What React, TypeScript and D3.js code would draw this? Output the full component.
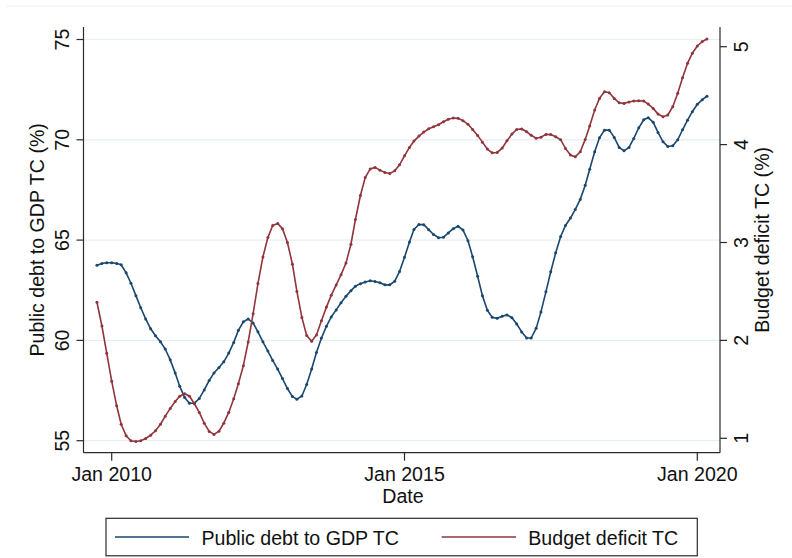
import React from "react";
import * as d3 from "d3";

// Monthly series, Oct 2009 .. Mar 2020
const START_MONTH = "2009-10";
const debtToGdp = [
  63.75, 63.83, 63.87, 63.87, 63.83, 63.77, 63.37, 62.85, 62.23, 61.63, 61.07, 60.58,
  60.23, 59.93, 59.57, 59.03, 58.37, 57.72, 57.15, 56.87, 56.87, 57.1, 57.53, 58.0,
  58.38, 58.65, 58.93, 59.37, 59.9, 60.5, 60.93, 61.07, 60.87, 60.43, 59.93, 59.47,
  59.0, 58.57, 58.1, 57.6, 57.2, 57.07, 57.23, 57.8, 58.57, 59.4, 60.12, 60.7,
  61.17, 61.52, 61.88, 62.2, 62.48, 62.7, 62.83, 62.91, 62.97, 62.94, 62.87, 62.77,
  62.77, 62.95, 63.43, 64.14, 64.91, 65.53, 65.78, 65.77, 65.52, 65.28, 65.12, 65.14,
  65.36, 65.57, 65.69, 65.5, 64.97, 64.17, 63.2, 62.23, 61.5, 61.15, 61.1, 61.2,
  61.27, 61.13, 60.82, 60.42, 60.12, 60.12, 60.6, 61.42, 62.42, 63.42, 64.37, 65.18,
  65.73, 66.1, 66.53, 67.03, 67.73, 68.53, 69.4, 70.1, 70.48, 70.48, 70.12, 69.62,
  69.45, 69.62, 70.07, 70.6, 71.0, 71.1, 70.87, 70.37, 69.9, 69.67, 69.7, 70.0,
  70.5, 70.98, 71.4, 71.77, 72.0, 72.17,
];
const budgetDeficit = [
  2.39, 2.147, 1.87, 1.584, 1.332, 1.144, 1.026, 0.974, 0.967, 0.974, 0.998, 1.032,
  1.077, 1.144, 1.226, 1.305, 1.376, 1.43, 1.455, 1.43, 1.353, 1.264, 1.155, 1.07,
  1.04, 1.073, 1.155, 1.264, 1.404, 1.557, 1.741, 1.983, 2.273, 2.58, 2.852, 3.05,
  3.173, 3.194, 3.14, 3.0, 2.778, 2.5, 2.235, 2.05, 1.992, 2.056, 2.2, 2.34,
  2.46, 2.567, 2.67, 2.79, 2.982, 3.235, 3.48, 3.664, 3.752, 3.767, 3.739, 3.715,
  3.705, 3.732, 3.793, 3.885, 3.971, 4.036, 4.087, 4.128, 4.162, 4.182, 4.203, 4.233,
  4.258, 4.271, 4.268, 4.244, 4.207, 4.155, 4.094, 4.025, 3.954, 3.916, 3.92, 3.964,
  4.039, 4.107, 4.155, 4.16, 4.131, 4.095, 4.065, 4.076, 4.104, 4.102, 4.08, 4.05,
  3.961, 3.893, 3.875, 3.926, 4.053, 4.189, 4.353, 4.472, 4.54, 4.53, 4.472, 4.427,
  4.421, 4.435, 4.445, 4.448, 4.445, 4.414, 4.37, 4.312, 4.285, 4.302, 4.387, 4.524,
  4.683, 4.83, 4.933, 5.007, 5.052, 5.079,
];
const xTickYears = [2010, 2015, 2020];
const leftTicks = [55, 60, 65, 70, 75];
const rightTicks = [1, 2, 3, 4, 5];
const seriesNames = ["Public debt to GDP TC", "Budget deficit TC"];
const leftTitle = "Public debt to GDP TC (%)";
const rightTitle = "Budget deficit TC (%)";
const xTitle = "Date";

const BLUE = "#1a476f";
const RED = "#90353b";
const GRID = "#e6eef1";
const AXIS = "#2b2b2b";
const FONT = "'Liberation Sans', Arial, Helvetica, sans-serif";
const FS = 19.6;

export default function App() {
  const W = 792, H = 558;
  const plotLeft = 83.5, plotRight = 720, plotTop = 27, plotBottom = 452.7;

  const start = d3.timeParse("%Y-%m")(START_MONTH) as Date;
  const dates = debtToGdp.map((_, i) => d3.timeMonth.offset(start, i));

  const x = d3.scaleTime()
    .domain([new Date(2010, 0, 1), new Date(2020, 0, 1)])
    .range([111.7, 697.3]);
  const yL = d3.scaleLinear().domain([55, 75]).range([440.7, 39.5]);
  const yR = d3.scaleLinear().domain([1, 5]).range([438.3, 46.7]);

  const debtPts = dates.map((d, i) => [x(d), yL(debtToGdp[i])] as [number, number]);
  const defPts = dates.map((d, i) => [x(d), yR(budgetDeficit[i])] as [number, number]);
  const line = d3.line();

  const xTicks = xTickYears.map((y) => new Date(y, 0, 1));

  return (
    <div style={{ position: "absolute", left: 0, top: 0 }}>
      <svg width={W} height={H} style={{ display: "block", fontFamily: FONT }}>
        <rect x={0} y={0} width={W} height={H} fill="#fff" />
        <line x1={6} x2={W} y1={6} y2={6} stroke="#f0f0f0" strokeWidth={1} />

        {/* gridlines */}
        {leftTicks.map((t) => (
          <line key={"g" + t} x1={plotLeft} x2={plotRight} y1={yL(t)} y2={yL(t)} stroke={GRID} strokeWidth={1.2} />
        ))}

        {/* series */}
        <path d={line(debtPts) || ""} fill="none" stroke={BLUE} strokeWidth={1.6} />
        {debtPts.map((p, i) => (
          <circle key={"bd" + i} cx={p[0]} cy={p[1]} r={1.5} fill={BLUE} />
        ))}
        <path d={line(defPts) || ""} fill="none" stroke={RED} strokeWidth={1.6} />
        {defPts.map((p, i) => (
          <circle key={"rd" + i} cx={p[0]} cy={p[1]} r={1.5} fill={RED} />
        ))}

        {/* axes */}
        <line x1={plotLeft} x2={plotLeft} y1={plotTop} y2={plotBottom} stroke={AXIS} strokeWidth={1.2} />
        <line x1={plotRight} x2={plotRight} y1={plotTop} y2={plotBottom} stroke={AXIS} strokeWidth={1.2} />
        <line x1={plotLeft} x2={plotRight} y1={plotBottom} y2={plotBottom} stroke={AXIS} strokeWidth={1.2} />

        {leftTicks.map((t) => (
          <g key={"lt" + t}>
            <line x1={plotLeft - 7} x2={plotLeft} y1={yL(t)} y2={yL(t)} stroke={AXIS} strokeWidth={1.2} />
            <text transform={`translate(69,${yL(t)}) rotate(-90)`} textAnchor="middle" fontSize={FS} fill="#111">
              {t}
            </text>
          </g>
        ))}
        {rightTicks.map((t) => (
          <g key={"rt" + t}>
            <line x1={plotRight} x2={plotRight + 7} y1={yR(t)} y2={yR(t)} stroke={AXIS} strokeWidth={1.2} />
            <text transform={`translate(747.5,${yR(t)}) rotate(-90)`} textAnchor="middle" fontSize={FS} fill="#111">
              {t}
            </text>
          </g>
        ))}
        {xTicks.map((d, i) => (
          <g key={"xt" + i}>
            <line x1={x(d)} x2={x(d)} y1={plotBottom} y2={plotBottom + 8} stroke={AXIS} strokeWidth={1.2} />
            <text x={x(d)} y={481} textAnchor="middle" fontSize={FS} fill="#111">
              {d3.timeFormat("%b %Y")(d)}
            </text>
          </g>
        ))}

        {/* titles */}
        <text transform={`translate(44,${(plotTop + plotBottom) / 2}) rotate(-90)`} textAnchor="middle" fontSize={FS} fill="#111">
          {leftTitle}
        </text>
        <text transform={`translate(769,${(plotTop + plotBottom) / 2}) rotate(-90)`} textAnchor="middle" fontSize={FS} fill="#111">
          {rightTitle}
        </text>
        <text x={403} y={503} textAnchor="middle" fontSize={FS} fill="#111">
          {xTitle}
        </text>

        {/* legend */}
        <rect x={106} y={518.3} width={591.3} height={37.5} fill="#fff" stroke={AXIS} strokeWidth={1.2} />
        <line x1={115} x2={189} y1={537} y2={537} stroke={BLUE} strokeWidth={1.6} />
        <text x={201.5} y={545} fontSize={FS} fill="#111">{seriesNames[0]}</text>
        <line x1={441.7} x2={516} y1={537} y2={537} stroke={RED} strokeWidth={1.6} />
        <text x={528.3} y={545} fontSize={FS} fill="#111">{seriesNames[1]}</text>
      </svg>
    </div>
  );
}
